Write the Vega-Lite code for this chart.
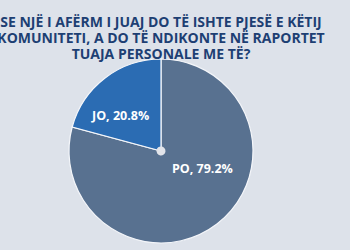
{
  "$schema": "https://vega.github.io/schema/vega-lite/v6.json",
  "width": 322,
  "height": 178,
  "autosize": {"type": "none"},
  "padding": {"left": 0, "top": 62, "right": 28, "bottom": 10},
  "background": "#dde2ea",
  "title": {
    "text": ["SE NJË I AFËRM I JUAJ DO TË ISHTE PJESË E KËTIJ", "KOMUNITETI, A DO TË NDIKONTE NË RAPORTET", "TUAJA PERSONALE ME TË?"],
    "anchor": "middle",
    "frame": "group",
    "font": "Open Sans",
    "fontSize": 14,
    "fontWeight": "bold",
    "color": "#1d3f73",
    "lineHeight": 16,
    "offset": 4,
    "dy": 9
  },
  "data": {
    "values": [
      {"answer": "PO", "share": 79.2, "label": "PO, 79.2%"},
      {"answer": "JO", "share": 20.8, "label": "JO, 20.8%"}
    ]
  },
  "encoding": {
    "theta": {"field": "share", "type": "quantitative", "stack": true},
    "order": {"field": "share", "type": "quantitative", "sort": "descending"}
  },
  "layer": [
    {
      "mark": {"type": "arc", "outerRadius": 92, "stroke": "#f4f6fa", "strokeWidth": 1.2},
      "encoding": {
        "color": {"field": "answer", "type": "nominal", "scale": {"domain": ["PO", "JO"], "range": ["#587190", "#2b6cb3"]}, "legend": null}
      }
    },
    {
      "mark": {"type": "arc", "outerRadius": 4.5, "fill": "#e2e4ea", "stroke": null}
    },
    {
      "mark": {
        "type": "text",
        "radius": 50,
        "dx": {"expr": "datum.answer == 'PO' ? 11 : -10"},
        "dy": {"expr": "datum.answer == 'PO' ? -22 : 5"},
        "font": "Open Sans",
        "fontSize": 12.5,
        "fontWeight": "bold",
        "fill": "#ffffff"
      },
      "encoding": {"text": {"field": "label"}}
    }
  ],
  "config": {"view": {"stroke": null}}
}
